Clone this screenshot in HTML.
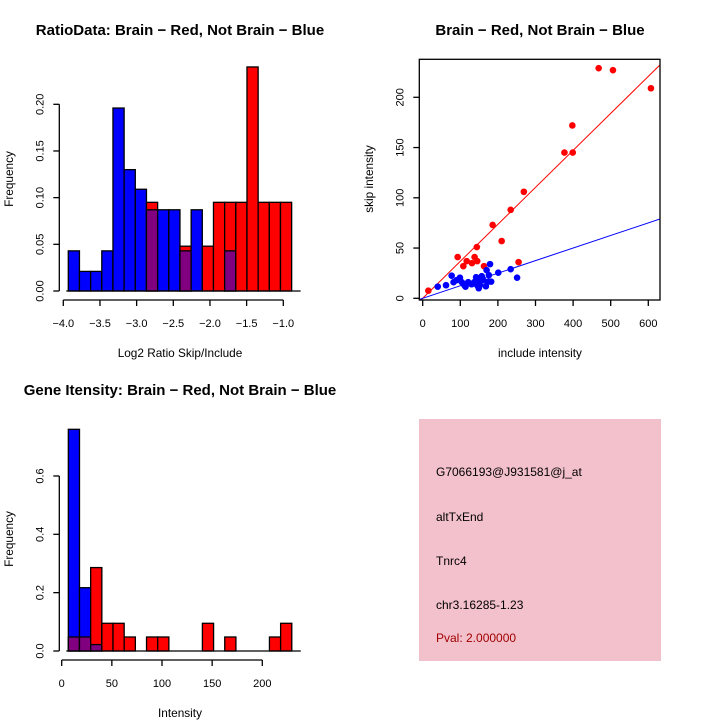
<!DOCTYPE html>
<html><head><meta charset="utf-8"><style>
body{margin:0;background:#fff}
svg{display:block;font-family:"Liberation Sans",sans-serif}
</style></head><body>
<svg id="s" width="720" height="720" viewBox="0 0 720 720">
<rect width="720" height="720" fill="#fff"/>
<text x="180" y="35" text-anchor="middle" font-size="15" font-weight="bold">RatioData: Brain − Red, Not Brain − Blue</text>
<text x="540" y="35" text-anchor="middle" font-size="15" font-weight="bold">Brain − Red, Not Brain − Blue</text>
<text x="180" y="395" text-anchor="middle" font-size="15" font-weight="bold">Gene Itensity: Brain − Red, Not Brain − Blue</text>
<text x="180" y="357" text-anchor="middle" font-size="11.8">Log2 Ratio Skip/Include</text>
<text transform="translate(13,179) rotate(-90)" text-anchor="middle" font-size="11.8">Frequency</text>
<text x="540" y="357" text-anchor="middle" font-size="11.8">include intensity</text>
<text transform="translate(373,179) rotate(-90)" text-anchor="middle" font-size="11.8">skip intensity</text>
<text x="180" y="717" text-anchor="middle" font-size="11.8">Intensity</text>
<text transform="translate(13,539) rotate(-90)" text-anchor="middle" font-size="11.8">Frequency</text>
<rect x="419" y="419" width="242" height="242" fill="#f3c1cc"/>
<g font-size="12">
<text x="436" y="476">G7066193@J931581@j_at</text>
<text x="436" y="521">altTxEnd</text>
<text x="436" y="565">Tnrc4</text>
<text x="436" y="609">chr3.16285-1.23</text>
<text x="436" y="642" fill="#a00000">Pval: 2.000000</text>
</g>
<g id="g1"></g><g id="g2"></g><g id="g3"></g>
</svg>
<script>
// Ratio histogram data
const ratioBinStart = -3.932, ratioBinWidth = 0.1523;
const ratioBlue = [0.043,0.021,0.021,0.043,0.196,0.130,0.109,0.087,0.087,0.087,0.043,0.087,0,0,0.043,0,0,0,0,0];
const ratioRed  = [0,0,0,0,0,0,0,0.095,0,0,0.048,0,0.048,0.095,0.095,0.095,0.24,0.095,0.095,0.095];
const ratioXTicks = [-4.0,-3.5,-3.0,-2.5,-2.0,-1.5,-1.0];
const ratioYTicks = [0,0.05,0.10,0.15,0.20];
// Intensity histogram data
const intBinStart = 6.6, intBinWidth = 11.14;
const intBlue = [0.76,0.217,0.022,0,0,0,0,0,0,0,0,0,0,0,0,0,0,0,0,0];
const intRed  = [0.048,0.048,0.286,0.095,0.095,0.048,0,0.048,0.048,0,0,0,0.095,0,0.048,0,0,0,0.048,0.095];
const intXTicks = [0,50,100,150,200];
const intYTicks = [0,0.2,0.4,0.6];
// Scatter data
const redX = [15,93,108,117,131,138,145,144,163,186,210,234,255,269,377,398,399,468,506,607];
const redY = [7.6,41,32,37,35,41,37,51,32,73,57,88,36,106,145,172,145,229,227,209];
const blueX = [40,62,77,82,90,99,104,111,114,121,130,137,142,145,150,149,157,161,168,170,174,176,179,182,201,234,251,152];
const blueY = [11.6,13,22.5,16,18,20.5,16,13,11.6,16,14,16,21,13,17.6,10,22,18,12,28,16.6,23,34,16.6,25.5,29,20.5,13];
const redSlope = 0.368, blueSlope = 0.125;
const scXTicks = [0,100,200,300,400,500,600];
const scYTicks = [0,50,100,150,200];

const NS="http://www.w3.org/2000/svg";
function mk(p,t,a){const e=document.createElementNS(NS,t);for(const k in a)e.setAttribute(k,a[k]);p.appendChild(e);return e;}

function hist(g,start,w,blue,red,xs,ys,xt,yt,fmtX,fmtY,axisY,yAxisX,name){
  for(let i=0;i<blue.length;i++){
    const x0=xs(start+i*w), x1=xs(start+(i+1)*w);
    const b=blue[i], r=red[i];
    const hi=Math.max(b,r), lo=Math.min(b,r);
    if(hi>0){
      const r1=mk(g,'rect',{x:x0,y:ys(hi),width:x1-x0,height:ys(0)-ys(hi),fill:b>=r?'#0000ff':'#ff0000',stroke:'#000','stroke-width':1.3});
      
      
    }
    if(lo>0){
      const r2=mk(g,'rect',{x:x0,y:ys(lo),width:x1-x0,height:ys(0)-ys(lo),fill:'#800080',stroke:'#000','stroke-width':1.3});
      
      
    }
  }
  mk(g,'line',{x1:xs(start)-2,x2:xs(start+blue.length*w)+9,y1:ys(0),y2:ys(0),stroke:'#000','stroke-width':1.3});
  mk(g,'line',{x1:xs(xt[0]),x2:xs(xt[xt.length-1]),y1:axisY,y2:axisY,stroke:'#000','stroke-width':1.3});
  xt.forEach(v=>{
    mk(g,'line',{x1:xs(v),x2:xs(v),y1:axisY,y2:axisY+6,stroke:'#000','stroke-width':1.3});
    const t=mk(g,'text',{x:xs(v),y:axisY+27,'text-anchor':'middle','font-size':11});
    t.textContent=fmtX(v);
    
    
  });
  mk(g,'line',{x1:yAxisX,x2:yAxisX,y1:ys(yt[0]),y2:ys(yt[yt.length-1]),stroke:'#000','stroke-width':1.3});
  yt.forEach(v=>{
    mk(g,'line',{x1:yAxisX-6,x2:yAxisX,y1:ys(v),y2:ys(v),stroke:'#000','stroke-width':1.3});
    const t=mk(g,'text',{transform:`translate(${yAxisX-16},${ys(v)}) rotate(-90)`,'text-anchor':'middle','font-size':11});
    t.textContent=fmtY(v);
    
    
  });
}
{
  const xs=v=>63.3+(v+4)*73.33, ys=v=>291-v*933.5;
  hist(document.getElementById('g1'),ratioBinStart,ratioBinWidth,ratioBlue,ratioRed,xs,ys,ratioXTicks,ratioYTicks,v=>v.toFixed(1).replace('-','−'),v=>v.toFixed(2),300,59.3,'ratio');
}
{
  const xs=v=>61.7+v*1.003, ys=v=>651-v*291.7;
  hist(document.getElementById('g3'),intBinStart,intBinWidth,intBlue,intRed,xs,ys,intXTicks,intYTicks,v=>String(v),v=>v.toFixed(1),660,59.3,'intensity');
}
{
  const g=document.getElementById('g2');
  const xs=v=>422.7+v*0.376, ys=v=>298.3-v*1.005;
  const L=419.3,R=660,T=59.3,B=300;
  mk(g,'clipPath',{id:'cp'});
  mk(document.getElementById('cp'),'rect',{x:L,y:T,width:R-L,height:B-T});
  const xmin=(L-422.7)/0.376, xmax=(R-422.7)/0.376;
  const lr=mk(g,'line',{x1:xs(xmin),y1:ys(xmin*redSlope),x2:xs(xmax),y2:ys(xmax*redSlope),stroke:'#ff0000','stroke-width':1,'clip-path':'url(#cp)'});
  
  
  const lb=mk(g,'line',{x1:xs(xmin),y1:ys(xmin*blueSlope),x2:xs(xmax),y2:ys(xmax*blueSlope),stroke:'#0000ff','stroke-width':1,'clip-path':'url(#cp)'});
  
  
  redX.forEach((x,i)=>{const c=mk(g,'circle',{cx:xs(x),cy:ys(redY[i]),r:3.3,fill:'#ff0000'});
    
    });
  blueX.forEach((x,i)=>{const c=mk(g,'circle',{cx:xs(x),cy:ys(blueY[i]),r:3.3,fill:'#0000ff'});
    
    });
  mk(g,'rect',{x:L,y:T,width:R-L,height:B-T,fill:'none',stroke:'#000','stroke-width':1.3});
  scXTicks.forEach(v=>{
    mk(g,'line',{x1:xs(v),x2:xs(v),y1:B,y2:B+6,stroke:'#000','stroke-width':1.3});
    const t=mk(g,'text',{x:xs(v),y:B+27,'text-anchor':'middle','font-size':11});t.textContent=v;
    
    
  });
  scYTicks.forEach(v=>{
    mk(g,'line',{x1:L-6,x2:L,y1:ys(v),y2:ys(v),stroke:'#000','stroke-width':1.3});
    const t=mk(g,'text',{transform:`translate(${L-16},${ys(v)}) rotate(-90)`,'text-anchor':'middle','font-size':11});t.textContent=v;
    
    
  });
}
</script>
</body></html>
